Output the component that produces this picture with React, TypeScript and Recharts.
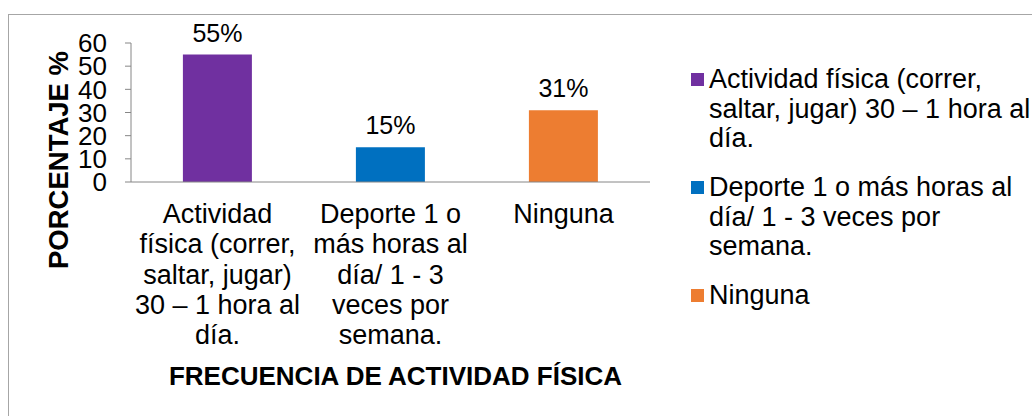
import { BarChart, Bar, Cell, XAxis, YAxis, Legend, LabelList } from 'recharts'

const categories = [
  'Actividad física (correr, saltar, jugar) 30 – 1 hora al día.',
  'Deporte 1 o más horas al día/ 1 - 3 veces por semana.',
  'Ninguna',
]
const percentages = [55, 15, 31]
const barColors = ['#7030A0', '#0070C0', '#ED7D31']
const yTicks = [0, 10, 20, 30, 40, 50, 60]

// category labels as Excel wrapped them
const tickLines = [
  ['Actividad', 'física (correr,', 'saltar, jugar)', '30 – 1 hora al', 'día.'],
  ['Deporte 1 o', 'más horas al', 'día/ 1 - 3', 'veces por', 'semana.'],
  ['Ninguna'],
]
const legendLines = [
  ['Actividad física (correr,', 'saltar, jugar) 30 – 1 hora al', 'día.'],
  ['Deporte 1 o más horas al', 'día/ 1 - 3 veces por', 'semana.'],
  ['Ninguna'],
]

const yTitle = 'PORCENTAJE %'
const xTitle = 'FRECUENCIA DE ACTIVIDAD FÍSICA'

const data = categories.map((name, i) => ({ name, value: percentages[i] }))

const FONT = '"Liberation Sans", Arial, sans-serif'
const AXIS = '#868686'

function CategoryTick({ x, y, index }: any) {
  const lines = tickLines[index] || []
  return (
    <text x={x} y={y} textAnchor="middle" fontSize={27} fill="#000" fontFamily={FONT}>
      {lines.map((l, i) => (
        <tspan key={i} x={x} y={y + 41 + i * 30.3}>{l}</tspan>
      ))}
    </text>
  )
}

function LegendBox() {
  return (
    <div style={{ fontFamily: FONT, fontSize: 27, lineHeight: '29.5px', color: '#000' }}>
      {legendLines.map((lines, i) => (
        <div key={i} style={{ position: 'relative', paddingLeft: 20, marginBottom: 19.5 }}>
          <span style={{ position: 'absolute', left: 2, top: 8, width: 13, height: 13, background: barColors[i] }} />
          {lines.map((l, j) => (
            <div key={j} style={{ whiteSpace: 'nowrap' }}>{l}</div>
          ))}
        </div>
      ))}
    </div>
  )
}

export default function App() {
  return (
    <div style={{ position: 'absolute', left: 0, top: 0, width: 1032, height: 416, overflow: 'hidden', background: '#fff' }}>
      <div style={{ position: 'absolute', left: 8, top: 14, width: 1100, height: 500, border: '1px solid #a6a6a6' }} />
      <BarChart
        width={1032}
        height={416}
        data={data}
        margin={{ top: 43, right: 382, bottom: 84, left: 0 }}
        barCategoryGap="30%"
        style={{ position: 'absolute', left: 0, top: 0, fontFamily: FONT }}
      >
        <XAxis
          dataKey="name"
          height={150}
          interval={0}
          tickLine={false}
          tickSize={0}
          tickMargin={0}
          axisLine={{ stroke: AXIS }}
          tick={<CategoryTick />}
          label={(p: any) => {
            const vb = p.viewBox
            return (
              <text x={vb.x + vb.width / 2 + 5} y={vb.y + 203} textAnchor="middle" fontSize={26} fontWeight="bold" fill="#000" fontFamily={FONT}>
                {xTitle}
              </text>
            )
          }}
        />
        <YAxis
          width={131}
          domain={[0, 60]}
          ticks={yTicks}
          interval={0}
          tickSize={6}
          tickMargin={18}
          axisLine={{ stroke: AXIS }}
          tickLine={{ stroke: AXIS }}
          tick={{ fontSize: 26, fill: '#000', fontFamily: FONT }}
          label={(p: any) => {
            const vb = p.viewBox
            const cx = vb.x + 68
            const cy = 160
            return (
              <text x={cx} y={cy} transform={`rotate(-90, ${cx}, ${cy})`} textAnchor="middle" fontSize={27.5} fontWeight="bold" fill="#000" fontFamily={FONT}>
                {yTitle}
              </text>
            )
          }}
        />
        <Legend
          layout="horizontal"
          align="center"
          verticalAlign="middle"
          content={<LegendBox />}
          wrapperStyle={{ left: 689, top: 65, width: 343 }}
        />
        <Bar dataKey="value" isAnimationActive={false}>
          {data.map((d, i) => (
            <Cell key={d.name} fill={barColors[i]} />
          ))}
          <LabelList
            dataKey="value"
            position="top"
            offset={13}
            formatter={(v: any) => `${v}%`}
            fontSize={25}
            fill="#000"
            fontFamily={FONT}
          />
        </Bar>
      </BarChart>
    </div>
  )
}
